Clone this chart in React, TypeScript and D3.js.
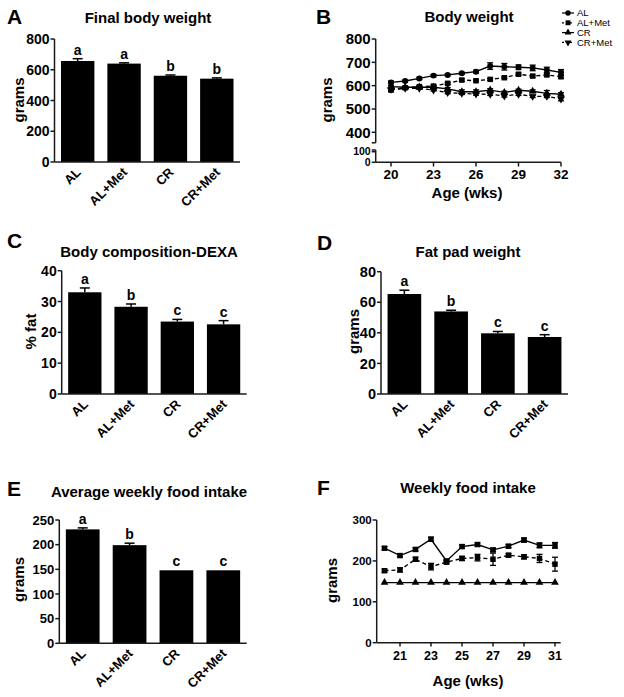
import React from 'react';
import * as d3 from 'd3';

const groups = ['AL', 'AL+Met', 'CR', 'CR+Met'];

const finalWeight = [657, 640, 561, 542];
const finalWeightErr = [15, 5, 5, 5];
const finalWeightSig = ['a', 'a', 'b', 'b'];

const fatPct = [33.0, 28.3, 23.5, 22.6];
const fatPctErr = [1.4, 0.9, 0.7, 1.2];
const fatPctSig = ['a', 'b', 'c', 'c'];

const fatPad = [65.4, 54.0, 39.7, 37.3];
const fatPadErr = [2.5, 0.8, 1.2, 1.5];
const fatPadSig = ['a', 'b', 'c', 'c'];

const foodAvg = [231, 199, 148, 148];
const foodAvgErr = [3, 4, 0, 0];
const foodAvgSig = ['a', 'b', 'c', 'c'];

const bwWeeks = [20, 21, 22, 23, 24, 25, 26, 27, 28, 29, 30, 31, 32];
const bwAL = [614, 620, 631, 643, 646, 653, 660, 684, 681, 679, 676, 667, 657];
const bwALErr = [6, 4, 5, 5, 4, 4, 6, 14, 14, 10, 12, 12, 12];
const bwALMet = [581, 591, 596, 598, 610, 624, 621, 627, 634, 649, 641, 646, 638];
const bwALMetErr = [6, 4, 4, 4, 4, 5, 4, 4, 4, 5, 5, 5, 6];
const bwCR = [596, 593, 593, 593, 586, 574, 574, 581, 571, 580, 576, 567, 563];
const bwCRErr = [4, 4, 4, 4, 6, 8, 8, 6, 5, 5, 6, 12, 7];
const bwCRMet = [584, 589, 589, 581, 570, 567, 564, 563, 556, 563, 554, 554, 543];
const bwCRMetErr = [4, 4, 4, 4, 5, 5, 5, 5, 5, 5, 5, 5, 8];

const fiWeeks = [20, 21, 22, 23, 24, 25, 26, 27, 28, 29, 30, 31];
const fiAL = [231, 213, 228, 253, 200, 235, 240, 227, 236, 251, 238, 238];
const fiALErr = [4, 3, 4, 5, 3, 4, 4, 4, 4, 5, 6, 7];
const fiALMet = [176, 178, 204, 186, 197, 206, 208, 204, 214, 210, 206, 192];
const fiALMetErr = [4, 5, 5, 8, 4, 5, 8, 15, 4, 5, 10, 17];
const fiCR = [147, 147, 147, 147, 147, 147, 147, 147, 147, 147, 147, 147];

const FONT = 'Liberation Sans, Arial, Helvetica, sans-serif';
const AX = '#1a1a1a';

type BarProps = {
  letter: string; letterX: number; letterY: number;
  title: string; titleX: number; titleY: number;
  axisX: number; axisEnd: number; y0: number; yTop: number; yMax: number;
  ticks: number[]; tickSize: number;
  yLabel: string; yLabelX: number; yLabelY: number;
  values: number[]; errs: number[]; sigs: string[];
};

function BarPanel(p: BarProps) {
  const x = d3.scaleBand<string>().domain(groups).range([p.axisX, p.axisEnd]).paddingInner(0.28).paddingOuter(0.14);
  const y = d3.scaleLinear().domain([0, p.yMax]).range([p.y0, p.yTop]);
  return (
    <g fontFamily={FONT}>
      <text x={p.letterX} y={p.letterY} fontSize={21} fontWeight="bold">{p.letter}</text>
      <text x={p.titleX} y={p.titleY} fontSize={15} fontWeight="bold" textAnchor="middle">{p.title}</text>
      {groups.map((g, i) => {
        const cx = (x(g) as number) + x.bandwidth() / 2;
        const top = y(p.values[i]);
        const et = y(p.values[i] + p.errs[i]);
        return (
          <g key={g}>
            <rect x={x(g)} y={top} width={x.bandwidth()} height={p.y0 - top} fill="#000" />
            {p.errs[i] > 0 && (
              <g stroke="#000" strokeWidth={1.5}>
                <line x1={cx} x2={cx} y1={top} y2={et} />
                <line x1={cx - 5} x2={cx + 5} y1={et} y2={et} />
              </g>
            )}
            <text x={cx} y={et - 4} fontSize={14} fontWeight="bold" textAnchor="middle">{p.sigs[i]}</text>
            <text transform={`translate(${cx + 4},${p.y0 + 11}) rotate(-45)`} fontSize={13} fontWeight="bold" textAnchor="end">{g}</text>
          </g>
        );
      })}
      <g stroke={AX} strokeWidth={1.5}>
        <line x1={p.axisX} x2={p.axisX} y1={p.yTop} y2={p.y0} />
        <line x1={p.axisX} x2={p.axisEnd} y1={p.y0} y2={p.y0} />
        {p.ticks.map(t => (
          <line key={t} x1={p.axisX - 4} x2={p.axisX} y1={y(t)} y2={y(t)} />
        ))}
      </g>
      {p.ticks.map(t => (
        <text key={t} x={p.axisX - 5} y={y(t)} dy="0.36em" fontSize={p.tickSize} fontWeight="bold" textAnchor="end">{t}</text>
      ))}
      <text transform={`translate(${p.yLabelX},${p.yLabelY}) rotate(-90)`} fontSize={15} fontWeight="bold" textAnchor="middle" dy="0.36em">{p.yLabel}</text>
    </g>
  );
}

const sym = (type: d3.SymbolType, size: number) => d3.symbol().type(type).size(size)() as string;

function Marker({ kind, x, y, s = 1 }: { kind: string; x: number; y: number; s?: number }) {
  if (kind === 'circle') return <path d={sym(d3.symbolCircle, 28 * s)} transform={`translate(${x},${y})`} fill="#000" />;
  if (kind === 'square') return <path d={sym(d3.symbolSquare, 30 * s)} transform={`translate(${x},${y})`} fill="#000" />;
  if (kind === 'up') return <path d={sym(d3.symbolTriangle, 26 * s)} transform={`translate(${x},${y})`} fill="#000" />;
  return <path d={sym(d3.symbolTriangle, 26 * s)} transform={`translate(${x},${y}) rotate(180)`} fill="#000" />;
}

type Series = { name: string; vals: number[]; errs?: number[]; dashed: boolean; kind: string };

function LineSeries({ weeks, s, x, y }: { weeks: number[]; s: Series; x: (v: number) => number; y: (v: number) => number }) {
  const line = d3.line<number>().x((_, i) => x(weeks[i])).y(d => y(d));
  return (
    <g>
      <path d={line(s.vals) as string} fill="none" stroke="#000" strokeWidth={1.4} strokeDasharray={s.dashed ? '4,3' : undefined} />
      {s.errs && s.vals.map((v, i) => (
        <g key={i} stroke="#000" strokeWidth={1.3}>
          <line x1={x(weeks[i])} x2={x(weeks[i])} y1={y(v - s.errs![i])} y2={y(v + s.errs![i])} />
          <line x1={x(weeks[i]) - 3} x2={x(weeks[i]) + 3} y1={y(v - s.errs![i])} y2={y(v - s.errs![i])} />
          <line x1={x(weeks[i]) - 3} x2={x(weeks[i]) + 3} y1={y(v + s.errs![i])} y2={y(v + s.errs![i])} />
        </g>
      ))}
      {s.vals.map((v, i) => <Marker key={i} kind={s.kind} x={x(weeks[i])} y={y(v)} />)}
    </g>
  );
}

function PanelB() {
  const x = d3.scaleLinear().domain([20, 32]).range([391, 561]);
  const yU = d3.scaleLinear().domain([400, 800]).range([132.3, 39]);
  const yL = d3.scaleLinear().domain([0, 100]).range([162.3, 151.7]);
  const axisX = 375.7;
  const series: Series[] = [
    { name: 'AL', vals: bwAL, errs: bwALErr, dashed: false, kind: 'circle' },
    { name: 'AL+Met', vals: bwALMet, errs: bwALMetErr, dashed: true, kind: 'square' },
    { name: 'CR', vals: bwCR, errs: bwCRErr, dashed: false, kind: 'up' },
    { name: 'CR+Met', vals: bwCRMet, errs: bwCRMetErr, dashed: true, kind: 'down' },
  ];
  const xt = [20, 23, 26, 29, 32];
  return (
    <g fontFamily={FONT}>
      <text x={316} y={24} fontSize={21} fontWeight="bold">B</text>
      <text x={469} y={22} fontSize={15} fontWeight="bold" textAnchor="middle">Body weight</text>
      {series.map(s => <LineSeries key={s.name} weeks={bwWeeks} s={s} x={x} y={yU} />)}
      <g stroke={AX} strokeWidth={1.5}>
        <line x1={axisX} x2={axisX} y1={39} y2={yU(355)} />
        <line x1={axisX - 4} x2={axisX} y1={yU(355)} y2={yU(355)} />
        <line x1={axisX} x2={axisX} y1={150} y2={162.3} />
        <line x1={axisX - 4} x2={axisX} y1={150} y2={150} />
        <line x1={axisX} x2={561} y1={162.3} y2={162.3} />
        {[400, 500, 600, 700, 800].map(t => <line key={t} x1={axisX - 4} x2={axisX} y1={yU(t)} y2={yU(t)} />)}
        {[0, 100].map(t => <line key={t} x1={axisX - 4} x2={axisX} y1={yL(t)} y2={yL(t)} />)}
        {xt.map(t => <line key={t} x1={x(t)} x2={x(t)} y1={162.3} y2={166.5} />)}
      </g>
      {[400, 500, 600, 700, 800].map(t => (
        <text key={t} x={axisX - 5} y={yU(t)} dy="0.36em" fontSize={15} fontWeight="bold" textAnchor="end">{t}</text>
      ))}
      {[0, 100].map(t => (
        <text key={t} x={axisX - 5} y={yL(t)} dy="0.36em" fontSize={10.5} fontWeight="bold" textAnchor="end">{t}</text>
      ))}
      {xt.map(t => (
        <text key={t} x={x(t)} y={178.5} fontSize={13.5} fontWeight="bold" textAnchor="middle">{t}</text>
      ))}
      <text x={467} y={198} fontSize={15} fontWeight="bold" textAnchor="middle">Age (wks)</text>
      <text transform="translate(327,100) rotate(-90)" fontSize={15} fontWeight="bold" textAnchor="middle" dy="0.36em">grams</text>
      {series.map((s, i) => {
        const ly = 13 + i * 9.8;
        return (
          <g key={s.name}>
            <line x1={562} x2={574} y1={ly} y2={ly} stroke="#000" strokeWidth={1.2} strokeDasharray={s.dashed ? '2,2' : undefined} />
            <Marker kind={s.kind} x={568} y={ly} s={0.8} />
            <text x={577} y={ly} dy="0.35em" fontSize={9.5}>{s.name}</text>
          </g>
        );
      })}
    </g>
  );
}

function PanelF() {
  const x = d3.scaleLinear().domain([19.5, 31.5]).range([376.75, 562.75]);
  const y = d3.scaleLinear().domain([0, 300]).range([642.7, 520]);
  const axisX = 376.7;
  const series: Series[] = [
    { name: 'CR', vals: fiCR, dashed: false, kind: 'up' },
    { name: 'AL+Met', vals: fiALMet, errs: fiALMetErr, dashed: true, kind: 'square' },
    { name: 'AL', vals: fiAL, errs: fiALErr, dashed: false, kind: 'square' },
  ];
  const xt = [21, 23, 25, 27, 29, 31];
  const yt = [0, 100, 200, 300];
  return (
    <g fontFamily={FONT}>
      <text x={317} y={495} fontSize={21} fontWeight="bold">F</text>
      <text x={468} y={493} fontSize={15} fontWeight="bold" textAnchor="middle">Weekly food intake</text>
      {series.map(s => <LineSeries key={s.name} weeks={fiWeeks} s={s} x={x} y={y} />)}
      <g stroke={AX} strokeWidth={1.5}>
        <line x1={axisX} x2={axisX} y1={520} y2={642.7} />
        <line x1={axisX} x2={560.7} y1={642.7} y2={642.7} />
        {yt.map(t => <line key={t} x1={axisX - 4} x2={axisX} y1={y(t)} y2={y(t)} />)}
        {xt.map(t => <line key={t} x1={x(t)} x2={x(t)} y1={642.7} y2={646.5} />)}
      </g>
      {yt.map(t => (
        <text key={t} x={axisX - 5} y={y(t)} dy="0.36em" fontSize={11.5} fontWeight="bold" textAnchor="end">{t}</text>
      ))}
      {xt.map(t => (
        <text key={t} x={x(t)} y={660} fontSize={12.5} fontWeight="bold" textAnchor="middle">{t}</text>
      ))}
      <text x={468} y={686} fontSize={15} fontWeight="bold" textAnchor="middle">Age (wks)</text>
      <text transform="translate(331.5,580.5) rotate(-90)" fontSize={15} fontWeight="bold" textAnchor="middle" dy="0.36em">grams</text>
    </g>
  );
}

export default function App() {
  return (
    <svg width={624} height={697} style={{ position: 'absolute', left: 0, top: 0, background: '#fff' }}>
      <rect width={624} height={697} fill="#fff" />
      <BarPanel letter="A" letterX={7} letterY={24} title="Final body weight" titleX={148} titleY={23}
        axisX={54.5} axisEnd={240} y0={162} yTop={39} yMax={800} ticks={[0, 200, 400, 600, 800]} tickSize={14}
        yLabel="grams" yLabelX={18.5} yLabelY={100}
        values={finalWeight} errs={finalWeightErr} sigs={finalWeightSig} />
      <PanelB />
      <BarPanel letter="C" letterX={7} letterY={248} title="Body composition-DEXA" titleX={149} titleY={257}
        axisX={61.7} axisEnd={246.7} y0={394} yTop={270.7} yMax={40} ticks={[0, 10, 20, 30, 40]} tickSize={14}
        yLabel="% fat" yLabelX={31} yLabelY={331.5}
        values={fatPct} errs={fatPctErr} sigs={fatPctSig} />
      <BarPanel letter="D" letterX={317} letterY={250} title="Fat pad weight" titleX={468} titleY={257}
        axisX={381} axisEnd={568} y0={394} yTop={271.7} yMax={80} ticks={[0, 20, 40, 60, 80]} tickSize={14.5}
        yLabel="grams" yLabelX={353.5} yLabelY={331.5}
        values={fatPad} errs={fatPadErr} sigs={fatPadSig} />
      <BarPanel letter="E" letterX={7} letterY={496} title="Average weekly food intake" titleX={149} titleY={497}
        axisX={59.3} axisEnd={246.7} y0={643.3} yTop={520} yMax={250} ticks={[0, 50, 100, 150, 200, 250]} tickSize={13}
        yLabel="grams" yLabelX={19} yLabelY={579.5}
        values={foodAvg} errs={foodAvgErr} sigs={foodAvgSig} />
      <PanelF />
    </svg>
  );
}
